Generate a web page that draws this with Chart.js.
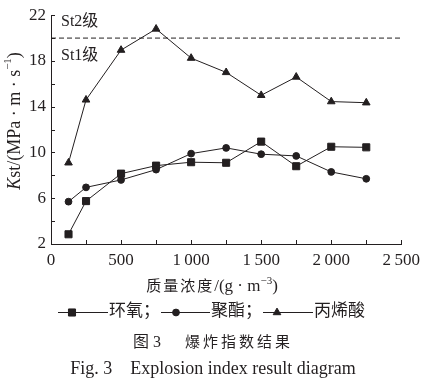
<!DOCTYPE html>
<html><head><meta charset="utf-8">
<script src="https://cdn.jsdelivr.net/npm/chart.js@4.4.1/dist/chart.umd.min.js"></script>
<style>html,body{margin:0;padding:0;background:#fff}#wrap{width:426px;height:382px}</style>
</head><body><div id="wrap"><canvas id="c" width="426" height="382"></canvas></div>
<script>
const concentrations = [125, 250, 500, 750, 1000, 1250, 1500, 1750, 2000, 2250];
const epoxy     = [2.85, 5.75, 8.15, 8.85, 9.15, 9.1, 10.95, 8.8, 10.5, 10.45];
const polyester = [5.7, 6.95, 7.6, 8.5, 9.9, 10.4, 9.85, 9.7, 8.3, 7.7];
const acrylic   = [9.1, 14.6, 18.95, 20.8, 18.25, 17.0, 15.0, 16.6, 14.45, 14.35];
const seriesNames = ['环氧', '聚酯', '丙烯酸'];
const xTicks = [0, 500, 1000, 1500, 2000, 2500];
const xMinorTicks = [250, 750, 1250, 1750, 2250];
const yTicks = [2, 6, 10, 14, 18, 22];
const yMinorTicks = [4, 8, 12, 16, 20];
const stLimit = 20;
const stLabels = ['St2级', 'St1级'];

const INK = '#231f20';
const SERIF = "'Liberation Serif', 'Noto Sans CJK SC', serif";

function pts(arr){ return concentrations.map((x,i)=>({x:x, y:arr[i]})); }

const styles = ['rect','circle','triangle'];
const sizes = [5, 3.4, 4.4];

function drawRuns(ctx, parts, startX, baseY){
  let x = startX;
  parts.forEach(p=>{
    ctx.font = p.f; ctx.letterSpacing = p.ls || '0px';
    ctx.fillText(p.t, x, baseY + (p.dy||0)); x += p.w;
  });
  ctx.letterSpacing = '0px';
}
function measureRuns(ctx, parts){
  let tw = 0;
  parts.forEach(p=>{ ctx.font = p.f; ctx.letterSpacing = p.ls || '0px'; p.w = ctx.measureText(p.t).width; tw += p.w; });
  ctx.letterSpacing = '0px';
  return tw;
}

const overlay = {
  id: 'overlay',
  afterDraw(chart){
    const ctx = chart.ctx, xs = chart.scales.x, ys = chart.scales.y;
    const left = chart.chartArea.left, bottom = chart.chartArea.bottom;
    ctx.save();
    ctx.strokeStyle = INK; ctx.lineWidth = 1;
    // inward ticks
    ctx.beginPath();
    xTicks.concat(xMinorTicks).forEach(v=>{
      const px = Math.round(xs.getPixelForValue(v))+0.5;
      ctx.moveTo(px, bottom); ctx.lineTo(px, bottom-4);
    });
    yTicks.concat(yMinorTicks).forEach(v=>{
      const py = Math.round(ys.getPixelForValue(v))+0.5;
      ctx.moveTo(left, py); ctx.lineTo(left+4, py);
    });
    ctx.stroke();
    // St labels
    ctx.fillStyle = INK;
    ctx.font = "16px " + SERIF;
    ctx.textAlign = 'left'; ctx.textBaseline = 'middle';
    const yl = ys.getPixelForValue(stLimit);
    ctx.fillText(stLabels[0], 61, yl - 16);
    ctx.fillText(stLabels[1], 61, yl + 18);
    // x title
    ctx.textAlign = 'left'; ctx.textBaseline = 'alphabetic';
    const xt = [
      {t:'质量浓度', f:"15px "+SERIF, ls:'2px'},
      {t:'/(g · m', f:"17px "+SERIF},
      {t:'−3', f:"11px "+SERIF, dy:-7},
      {t:')', f:"17px "+SERIF}
    ];
    const xw = measureRuns(ctx, xt);
    drawRuns(ctx, xt, 212 - xw/2, 291);
    // y title (rotated)
    ctx.save();
    ctx.translate(15, 121);
    ctx.rotate(-Math.PI/2);
    const parts = [
      {t:'K', f:"italic 18px "+SERIF},
      {t:'st/(MPa · m · s', f:"18px "+SERIF},
      {t:'−1', f:"11px "+SERIF, dy:-7},
      {t:')', f:"18px "+SERIF}
    ];
    ctx.textBaseline = 'middle';
    const tw = measureRuns(ctx, parts);
    drawRuns(ctx, parts, -tw/2, 0);
    ctx.restore();
    // legend
    const ly = 312;
    const items = [{x0:58, x1:108, m:72}, {x0:161, x1:210, m:176}, {x0:263, x1:313, m:277}];
    items.forEach((it,i)=>{
      ctx.strokeStyle = INK; ctx.fillStyle = INK; ctx.lineWidth = 1;
      ctx.beginPath(); ctx.moveTo(it.x0, ly+0.5); ctx.lineTo(it.x1, ly+0.5); ctx.stroke();
      Chart.helpers.drawPoint(ctx, {pointStyle: styles[i], radius: sizes[i], borderWidth:1, rotation:0}, it.m, ly+0.5);
      ctx.fillStyle = INK;
      ctx.font = "17px " + SERIF; ctx.textBaseline = 'middle'; ctx.textAlign = 'left';
      ctx.fillText(seriesNames[i] + (i<2 ? '；' : ''), it.x1 + 1, ly);
    });
    // captions
    ctx.fillStyle = INK; ctx.textBaseline = 'middle'; ctx.textAlign = 'left';
    const cap = [
      {t:'图 3', f:"16px "+SERIF},
      {t:'      ', f:"16px "+SERIF},
      {t:'爆炸指数结果', f:"15px "+SERIF, ls:'3px'}
    ];
    const cw = measureRuns(ctx, cap);
    drawRuns(ctx, cap, 213 - cw/2, 343);
    ctx.textAlign = 'center';
    ctx.font = "18px " + SERIF;
    ctx.fillText('Fig. 3    Explosion index result diagram', 213, 369);
    ctx.restore();
  }
};

function mk(label, arr, i){
  return {label, data: pts(arr), borderColor: INK, backgroundColor: INK, borderWidth: 1,
    pointStyle: styles[i], pointRadius: sizes[i], pointBorderWidth: 1, pointBackgroundColor: INK,
    pointBorderColor: INK, tension: 0, fill: false};
}

new Chart(document.getElementById('c'), {
  type: 'line',
  data: {
    datasets: [
      {label: 'St', data: [{x: 0, y: stLimit}, {x: 2500, y: stLimit}], borderColor: INK, borderWidth: 1,
       borderDash: [5, 3], pointRadius: 0, fill: false},
      mk(seriesNames[0], epoxy, 0),
      mk(seriesNames[1], polyester, 1),
      mk(seriesNames[2], acrylic, 2)
    ]
  },
  options: {
    responsive: false, animation: false, devicePixelRatio: 1,
    layout: {padding: {left: 0, top: 10, right: 24, bottom: 93}},
    plugins: {legend: {display: false}, tooltip: {enabled: false}},
    scales: {
      x: {type: 'linear', min: 0, max: 2500,
          afterBuildTicks: s => { s.ticks = xTicks.map(v=>({value:v})); },
          afterFit: s => { s.height = 45; },
          grid: {display: false, drawTicks: false}, border: {display: true, color: INK, width: 1},
          ticks: {color: INK, font: {family: SERIF, size: 17}, padding: 6, maxRotation: 0,
                  callback: v => String(v).replace(/\B(?=(\d{3})+(?!\d))/g, '\u2009')}},
      y: {type: 'linear', min: 2, max: 22,
          afterBuildTicks: s => { s.ticks = yTicks.map(v=>({value:v})); },
          afterFit: s => { s.width = 51; },
          grid: {display: false, drawTicks: false}, border: {display: true, color: INK, width: 1},
          ticks: {color: INK, font: {family: SERIF, size: 17}, padding: 5}}
    }
  },
  plugins: [overlay]
});
</script></body></html>
